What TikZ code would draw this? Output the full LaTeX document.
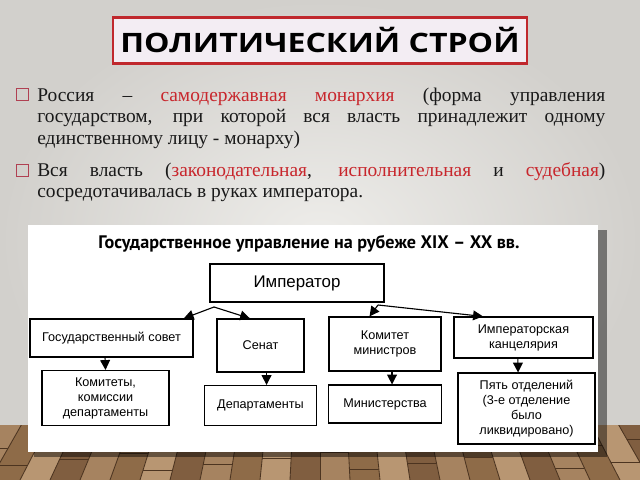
\documentclass[tikz,border=0pt]{standalone}
\usepackage{fontspec}
\setmainfont{Liberation Serif}
\newfontfamily\schemefont{Liberation Sans}
\newfontfamily\headfont{Open Sans}
\newfontfamily\capfont{PT Sans}
\usetikzlibrary{arrows.meta, positioning, calc}
\hyphenpenalty=10000
\exhyphenpenalty=10000
\definecolor{slidered}{RGB}{192,40,45}
\definecolor{wordred}{RGB}{200,38,44}
\definecolor{bulletred}{RGB}{176,64,82}
\definecolor{titlefill}{RGB}{243,237,243}
\definecolor{wallin}{RGB}{238,237,234}
\definecolor{wallout}{RGB}{210,208,204}
\definecolor{plank0}{RGB}{128,94,64}
\definecolor{plank1}{RGB}{166,131,96}
\definecolor{plank2}{RGB}{142,107,72}
\definecolor{plank3}{RGB}{184,150,114}
\definecolor{plankgap}{RGB}{76,52,32}
\tikzstyle{box} = [rectangle, draw=black, thick, fill=white, align=center, inner sep=2pt, font=\schemefont\fontsize{9}{10.7}\selectfont]
\tikzstyle{arr} = [-{Triangle[length=7pt,width=7pt]}, thick]
\tikzstyle{bullet} = [rectangle, draw=bulletred, thick, minimum size=0.29cm, inner sep=0]
\tikzstyle{para} = [anchor=base west, inner sep=0, text width=404pt, align=justify, text=black!90, font=\fontsize{13.8}{15.6}\selectfont]

\begin{document}
\begin{tikzpicture}[x=0.025cm, y=-0.025cm, node distance=1.5cm]
        % wall and floor
        \shade[inner color=wallin, outer color=wallout] (0,0) rectangle (640,480);
        \begin{scope}
            \clip (0,425) rectangle (640,480);
            \foreach \i in {0,...,40} {
                \pgfmathsetmacro\xa{320+(\i-20)*30}
                \pgfmathsetmacro\xb{\xa+30}
                \pgfmathtruncatemacro\k{mod(\i*5+1,4)}
                \pgfmathsetmacro\yj{432+mod(\i*17,40)}
                \pgfmathsetmacro\xl{320+(\xa-320)/580*(\yj+100)}
                \pgfmathsetmacro\xr{320+(\xb-320)/580*(\yj+100)}
                \fill[plank\k] (320,-100) -- (\xa,480) -- (\xb,480) -- cycle;
                \draw[plankgap, semithick] (320,-100) -- (\xa,480);
                \draw[plankgap] (\xl,\yj) -- (\xr,\yj);
            }
        \end{scope}

        % title and text
        \node[draw=slidered, line width=2pt, fill=titlefill, minimum width=10.35cm, minimum height=1.15cm, font=\headfont\bfseries\fontsize{19}{19}\selectfont] (title) at (320,40.5) {\scalebox{1.2}[1]{ПОЛИТИЧЕСКИЙ СТРОЙ}};

        \node[para] (p1) at (37,101) {Россия – \textcolor{wordred}{самодержавная монархия} (форма управления\linebreak государством, при которой вся власть принадлежит одному\linebreak единственному лицу - монарху)};
        \node[bullet] (b1) at (22.5,94.5) {};
        \node[para] (p2) at (37,176) {Вся власть (\textcolor{wordred}{законодательная}, \textcolor{wordred}{исполнительная} и \textcolor{wordred}{судебная})\linebreak сосредотачивалась в руках императора.};
        \node[bullet] (b2) at (22.5,170.5) {};

        % scheme sheet
        \fill[black, opacity=0.45] (34,230) rectangle (607,457);
        \fill[white] (28,225) rectangle (598,452);
        \node[font=\capfont\bfseries\fontsize{12.9}{13}\selectfont] (head) at (309,244) {Государственное управление на рубеже XIX – XX вв.};

        \node[box, minimum width=4.35cm, minimum height=0.95cm, font=\schemefont\fontsize{12}{14}\selectfont] (imp) at (297,283) {Император};

        \node[box, minimum width=4.075cm, minimum height=0.95cm] (gsovet) at (111.5,338) {Государственный совет};
        \node[box, minimum width=2.175cm, minimum height=1.325cm] (senat) at (260.5,345.5) {Сенат};
        \node[box, minimum width=2.8cm, minimum height=1.35cm] (kommin) at (385,344) {Комитет\\министров};
        \node[box, minimum width=3.475cm, minimum height=1.025cm] (kanc) at (523.5,337.5) {Императорская\\канцелярия};

        \node[box, minimum width=3.175cm, minimum height=1.375cm, below of=gsovet, xshift=-0.15cm] (komit) {Комитеты,\\комиссии\\департаменты};
        \node[box, minimum width=2.8cm, minimum height=1cm, below of=senat] (depts) {Департаменты};
        \node[box, minimum width=2.825cm, minimum height=0.95cm, below of=kommin] (minist) {Министерства};
        \node[box, minimum width=3.425cm, minimum height=1.775cm, below of=kanc, xshift=0.075cm, yshift=-0.275cm] (pyat) {Пять отделений\\(3-е отделение\\было\\ликвидировано)};

        \coordinate (lpeak) at (214,307);
        \coordinate (rpeak) at (378,305);

        \draw [arr] (lpeak) -- ([xshift=-7pt]gsovet.north east);
        \draw [arr] (lpeak) -- ([xshift=-7.5pt]senat.north);
        \draw [arr] (rpeak) -- ([xshift=-11pt]kommin.north);
        \draw [arr] (rpeak) -- ([xshift=21pt]kanc.north west);
        \draw [arr] ([xshift=-4.6pt]gsovet.south) -- (komit.north);
        \draw [arr] ([xshift=4.3pt]senat.south) -- ([xshift=4.3pt]depts.north);
        \draw [arr] ([xshift=5pt]kommin.south) -- ([xshift=5pt]minist.north);
        \draw [arr] ([xshift=-4pt]kanc.south) -- ([xshift=-6pt]pyat.north);

    \end{tikzpicture}
\end{document}
